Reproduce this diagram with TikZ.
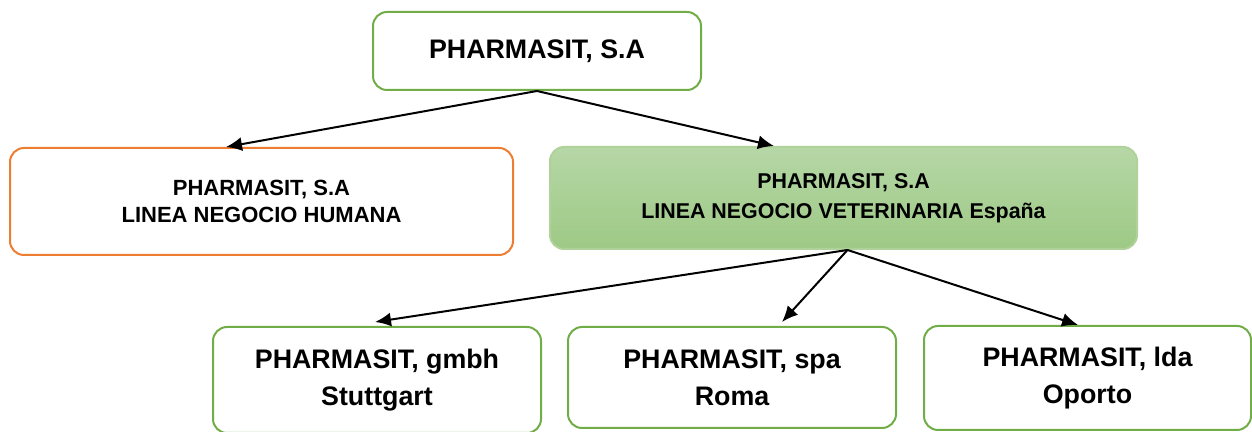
\documentclass[tikz,border=0pt]{standalone}
\usepackage{fontspec}
\setmainfont{Liberation Sans}
\usetikzlibrary{arrows.meta}
\definecolor{verde}{HTML}{70AD47}
\definecolor{naranja}{HTML}{ED7D31}
\definecolor{verdesup}{HTML}{B6D7A6}
\definecolor{verdeinf}{HTML}{9DC985}

\begin{document}
\begin{tikzpicture}[line cap=round,line join=round,>={Latex[length=8pt,width=7pt]},x=1pt,y=1pt,
  caja/.style={draw=verde,line width=1pt,rounded corners=7pt,align=center,inner sep=0pt,font=\bfseries},
  linea/.style={->,line width=1pt,color=black}]
\useasboundingbox (0,0) rectangle (626,216);
\node[caja,minimum width=164pt,minimum height=39pt,font=\bfseries\fontsize{13.4}{16}\selectfont] (pharma) at (268.5,190.5) {PHARMASIT, S.A};
\node[caja,draw=naranja,minimum width=251.5pt,minimum height=53.5pt,font=\bfseries\fontsize{11}{13.5}\selectfont] (humana) at (130.75,115.25) {PHARMASIT, S.A\\LINEA NEGOCIO HUMANA};
\node[caja,draw=verde!55,top color=verdesup,bottom color=verdeinf,minimum width=293.5pt,minimum height=51pt,font=\bfseries\fontsize{10.7}{15}\selectfont] (veter) at (421.75,117) {PHARMASIT, S.A\\LINEA NEGOCIO VETERINARIA España};
\node[caja,minimum width=164pt,minimum height=53pt,font=\bfseries\fontsize{13.4}{18.5}\selectfont] (stuttgart) at (188.5,26) {PHARMASIT, gmbh\\Stuttgart};
\node[caja,minimum width=164pt,minimum height=50.5pt,font=\bfseries\fontsize{13.4}{18.5}\selectfont] (roma) at (366,27.25) {PHARMASIT, spa\\Roma};
\node[caja,minimum width=163.5pt,minimum height=52pt,font=\bfseries\fontsize{13.4}{18.5}\selectfont] (oporto) at (543.75,27) {PHARMASIT, lda\\Oporto};
\draw[linea] (pharma.south) -- ([xshift=-17.75pt]humana.north);
\draw[linea] (pharma.south) -- ([xshift=-34.75pt]veter.north);
\draw[linea] ([xshift=2pt]veter.south) -- ([xshift=-1pt,yshift=2pt]stuttgart.north);
\draw[linea] ([xshift=2pt]veter.south) -- ([xshift=25pt,yshift=2pt]roma.north);
\draw[linea] ([xshift=2pt]veter.south) -- ([xshift=-4.75pt]oporto.north);
\end{tikzpicture}
\end{document}
